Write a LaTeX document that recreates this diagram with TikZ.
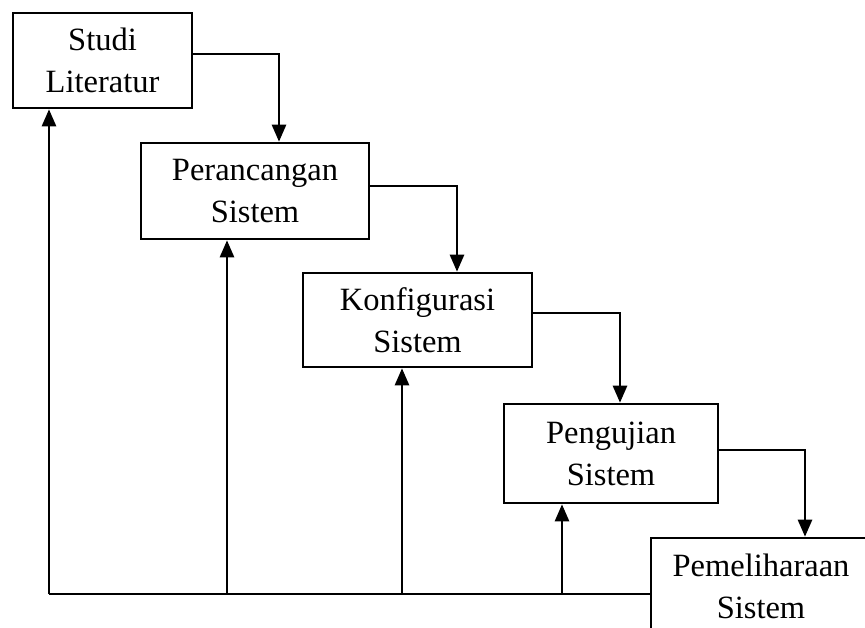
\documentclass[tikz,border=0pt]{standalone}
\usepackage{fontspec}
\setmainfont{Liberation Serif}
\usetikzlibrary{arrows.meta}
\begin{document}
\begin{tikzpicture}[x=1pt,y=-1pt,
  box/.style={draw,line width=2.6pt,inner sep=0pt,align=center,
    font=\fontsize{32.5}{42}\selectfont},
  arr/.style={line width=2.6pt,-{Triangle[width=14pt,length=17pt]}},
  ln/.style={line width=2.6pt}]
\useasboundingbox (0,0) rectangle (865,627);
\clip (0,0) rectangle (865,627);
\node[box,minimum width=179pt,minimum height=95pt] (b1) at (102.5,60.5) {Studi\\Literatur};
\node[box,minimum width=228pt,minimum height=96pt] (b2) at (255,191) {Perancangan\\Sistem};
\node[box,minimum width=229pt,minimum height=94pt] (b3) at (417.5,320) {Konfigurasi\\Sistem};
\node[box,minimum width=214pt,minimum height=99pt] (b4) at (611,453.5) {Pengujian\\Sistem};
\node[box,minimum width=220pt,minimum height=96pt] (b5) at (761,586) {Pemeliharaan\\Sistem};
\coordinate (v1) at (279,0);
\coordinate (v2) at (457,0);
\coordinate (v3) at (620,0);
\coordinate (v4) at (805,0);
\draw[arr] ([yshift=6.5pt]b1.east) -| (b2.north -| v1);
\draw[arr] ([yshift=5pt]b2.east) -| (b3.north -| v2);
\draw[arr] ([yshift=7pt]b3.east) -| (b4.north -| v3);
\draw[arr] ([yshift=3.5pt]b4.east) -| (b5.north -| v4);
\coordinate (bl) at (49,594);
\coordinate (u2) at (227,594);
\coordinate (u3) at (402,594);
\coordinate (u4) at (562,594);
\draw[ln] (b5.west |- bl) -- (bl);
\draw[arr] (bl) -- (b1.south -| bl);
\draw[arr] (u2) -- (b2.south -| u2);
\draw[arr] (u3) -- (b3.south -| u3);
\draw[arr] (u4) -- (b4.south -| u4);
\end{tikzpicture}
\end{document}
